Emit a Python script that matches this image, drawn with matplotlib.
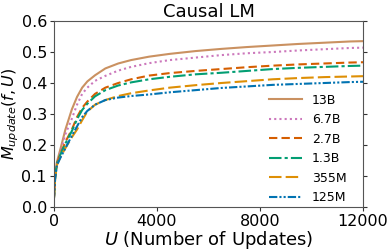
import matplotlib.pyplot as plt

updates = [0, 50, 120, 250, 450, 700, 900, 1100, 1300, 1600, 2000, 2500, 3000,
           3700, 4500, 5500, 6500, 7500, 8500, 9500, 10500, 11500, 12000]

m_13b = [0.02, 0.10, 0.145, 0.185, 0.25, 0.315, 0.355, 0.385, 0.405, 0.425, 0.447, 0.463, 0.474,
         0.485, 0.494, 0.503, 0.510, 0.516, 0.521, 0.526, 0.530, 0.534, 0.535]
m_6_7b = [0.02, 0.10, 0.14, 0.175, 0.235, 0.285, 0.33, 0.365, 0.385, 0.407, 0.423, 0.440, 0.452,
          0.464, 0.474, 0.482, 0.490, 0.496, 0.500, 0.505, 0.509, 0.513, 0.514]
m_2_7b = [0.02, 0.095, 0.14, 0.17, 0.21, 0.25, 0.29, 0.32, 0.34, 0.365, 0.385, 0.400, 0.412,
          0.424, 0.432, 0.439, 0.445, 0.451, 0.456, 0.460, 0.463, 0.466, 0.467]
m_1_3b = [0.02, 0.095, 0.14, 0.168, 0.205, 0.245, 0.283, 0.313, 0.333, 0.357, 0.377, 0.392, 0.402,
          0.412, 0.420, 0.428, 0.433, 0.439, 0.445, 0.449, 0.452, 0.455, 0.456]
m_355m = [0.02, 0.09, 0.135, 0.16, 0.19, 0.225, 0.25, 0.28, 0.308, 0.33, 0.345, 0.358, 0.367,
          0.376, 0.385, 0.393, 0.400, 0.406, 0.412, 0.416, 0.419, 0.421, 0.422]
m_125m = [0.02, 0.09, 0.135, 0.158, 0.19, 0.23, 0.26, 0.29, 0.31, 0.33, 0.345, 0.353, 0.358,
          0.363, 0.370, 0.377, 0.384, 0.389, 0.394, 0.397, 0.400, 0.403, 0.404]

labels = ['13B', '6.7B', '2.7B', '1.3B', '355M', '125M']
series = [m_13b, m_6_7b, m_2_7b, m_1_3b, m_355m, m_125m]
colors = ['#ca9161', '#cc78bc', '#d55e00', '#029e73', '#de8f05', '#0173b2']
styles = ['-', (0, (1, 1.5)), (0, (4, 2)), (0, (6, 1.5, 1.5, 1.5)), (0, (6, 2)),
          (0, (4, 1, 1, 1, 1, 1))]

fig = plt.figure(figsize=(3.9, 2.5), dpi=100)
ax = fig.add_axes([0.138, 0.172, 0.793, 0.744])

for vals, lab, c, ls in zip(series, labels, colors, styles):
    ax.plot(updates, vals, color=c, linestyle=ls, linewidth=1.5, label=lab)

ax.set_xlim(0, 12000)
ax.set_ylim(0, 0.6)
ax.set_xticks([0, 4000, 8000, 12000])
ax.set_yticks([0.0, 0.1, 0.2, 0.3, 0.4, 0.5, 0.6])
ax.tick_params(axis='both', labelsize=11.5, length=3, pad=2, colors='#333333', labelcolor='black')
ax.tick_params(axis='y', right=True)
for s in ax.spines.values():
    s.set_color('#555555')

ax.set_title('Causal LM', fontsize=13, pad=2)
ax.set_xlabel('$U$ (Number of Updates)', fontsize=13, labelpad=0)
ax.set_ylabel('$M_{update}(f, U)$', fontsize=11.5, labelpad=0)

ax.legend(loc='lower right', bbox_to_anchor=(0.974, -0.032), frameon=False, fontsize=9,
          handlelength=2.6, labelspacing=0.52, handletextpad=0.8, borderaxespad=0.3)

plt.savefig('out.png', dpi=100)
